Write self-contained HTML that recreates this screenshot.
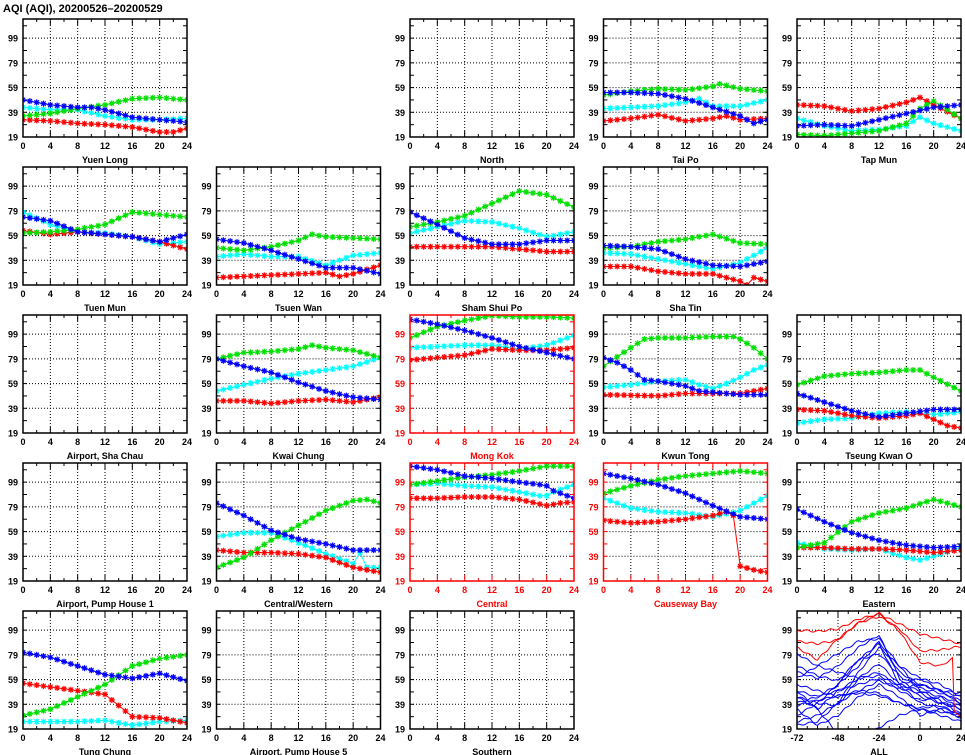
<!DOCTYPE html>
<html><head><meta charset="utf-8"><style>
body{margin:0;background:#fff;}
svg{display:block;font-family:"Liberation Sans",sans-serif;font-weight:bold;}
</style></head><body>
<svg id="s" width="965" height="755" xmlns="http://www.w3.org/2000/svg"></svg>
<script>
const S=document.getElementById('s');let h='';
h+='<text x="3" y="12" font-size="11">AQI (AQI), 20200526\u201320200529</text>';
const W=164,H=118,VMIN=19,VMAX=114.5;
const C={b:'#0000ff',g:'#00e000',c:'#00ffff',r:'#ff0000'};
function interp(kp,t){for(let i=0;i<kp.length-1;i++){if(t>=kp[i][0]&&t<=kp[i+1][0]){const a=kp[i],b=kp[i+1];return a[1]+(b[1]-a[1])*(t-a[0])/(b[0]-a[0]);}}return kp[kp.length-1][1];}
function P(a){const r=[];for(let i=0;i<a.length;i+=2)r.push([a[i],a[i+1]]);return r;}
function panel(c,r,name,red,series,all){
 const L=23+193.5*c,T=19+148*r,B=T+H,R=L+W;
 const col=red?'#ff0000':'#000';
 const xs=v=>all?L+(v+72)/96*W:L+v/24*W;
 const ys=v=>B-(v-VMIN)/(VMAX-VMIN)*H;
 const xt=all?[-72,-48,-24,0,24]:[0,4,8,12,16,20,24];
 xt.forEach(v=>{if(v!==xt[0]&&v!==xt[xt.length-1])h+=`<line x1="${xs(v)}" y1="${T}" x2="${xs(v)}" y2="${B}" stroke="#000" stroke-width="1" stroke-dasharray="1,2"/>`;});
 [39,59,79,99].forEach(v=>{h+=`<line x1="${L}" y1="${ys(v)}" x2="${R}" y2="${ys(v)}" stroke="#000" stroke-width="1" stroke-dasharray="1,2"/>`;});
 for(let v=19;v<=110;v+=10){h+=`<line x1="${L}" y1="${ys(v)}" x2="${L+4}" y2="${ys(v)}" stroke="${col}"/><line x1="${R}" y1="${ys(v)}" x2="${R-4}" y2="${ys(v)}" stroke="${col}"/>`;}
 const st=all?6:2,x0=all?-72:0,x1=24;
 for(let v=x0;v<=x1;v+=st){const len=(all?(v%24==0):(v%4==0))?6:3;h+=`<line x1="${xs(v)}" y1="${T}" x2="${xs(v)}" y2="${T+len}" stroke="${col}"/><line x1="${xs(v)}" y1="${B}" x2="${xs(v)}" y2="${B-len}" stroke="${col}"/>`;}
 [19,39,59,79,99].forEach(v=>{h+=`<text x="${L-5}" y="${ys(v)+3.5}" font-size="9" text-anchor="end" fill="${col}">${v}</text>`;});
 xt.forEach(v=>{h+=`<text x="${xs(v)}" y="${B+12}" font-size="9" text-anchor="middle" fill="${col}">${v}</text>`;});
 h+=`<text x="${L+W/2}" y="${B+26}" font-size="9" text-anchor="middle" fill="${col}">${name}</text>`;
 h+=`<defs><clipPath id="cp${c}_${r}"><rect x="${L}" y="${T}" width="${W}" height="${H}"/></clipPath></defs><g clip-path="url(#cp${c}_${r})">`;
 if(all){
  series.forEach(([k,kp])=>{let pts=[];for(let t=-72;t<=24;t+=1){let v=interp(kp,t)+Math.sin(t*0.9+kp[0][1])*0.8;pts.push(xs(t).toFixed(1)+','+ys(v).toFixed(1));}
   h+=`<polyline points="${pts.join(' ')}" fill="none" stroke="${C[k]}" stroke-width="1"/>`;});
 } else {
  series.forEach(([k,kp])=>{let pts=[],m='';for(let t=0;t<=24;t++){const x=xs(t),y=ys(interp(kp,t));pts.push(x.toFixed(1)+','+y.toFixed(1));
    m+=`M${x-3},${y}h6M${x},${y-3}v6M${x-2.2},${y-2.2}l4.4,4.4M${x-2.2},${y+2.2}l4.4,-4.4`;}
   h+=`<polyline points="${pts.join(' ')}" fill="none" stroke="${C[k]}" stroke-width="1"/><path d="${m}" stroke="${C[k]}" stroke-width="1.2" fill="none"/>`;});
 }
 h+='</g>';
 h+=`<rect x="${L}" y="${T}" width="${W}" height="${H}" fill="none" stroke="${col}" stroke-width="1.5"/>`;
}
const D=(b,g,c,r)=>[['c',P(c)],['r',P(r)],['g',P(g)],['b',P(b)]];
panel(0,0,'Yuen Long',0,D([0,49,4,45,8,43,10,43,12,41,14,38,16,35,20,33,24,31],[0,36,4,38,8,42,12,45,16,50,20,51,24,49],[0,43,4,41,8,41,12,36,16,33,20,33,24,34],[0,33,4,32,8,30,12,29,16,27,20,23,22,23,24,26]));
panel(2,0,'North',0,[]);
panel(3,0,'Tai Po',0,D([0,55,4,55,8,54,12,50,16,43,20,36,22,30,24,33],[0,53,4,56,8,58,12,57,16,60,17,62,20,58,24,56],[0,42,4,43,8,44,12,47,14,50,16,44,20,44,24,49],[0,32,4,34,8,37,12,32,16,34,18,36,20,33,24,34]));
panel(4,0,'Tap Mun',0,D([0,28,4,29,8,28,12,33,16,38,20,43,24,45],[0,21,4,20,8,22,12,24,16,30,18,42,20,48,24,34],[0,34,4,28,8,24,12,25,16,28,18,35,20,30,24,24],[0,45,4,44,8,40,12,42,16,47,18,51,20,45,24,34]));
panel(0,1,'Tuen Mun',0,D([0,74,4,71,8,62,12,60,16,58,20,54,24,60],[0,61,4,62,8,64,12,68,16,78,20,76,24,74],[0,78,4,68,8,62,12,61,16,58,20,52,24,54],[0,63,4,60,8,62,12,60,16,58,20,54,24,48]));
panel(1,1,'Tsuen Wan',0,D([0,56,4,53,8,47,12,40,16,33,20,33,24,28],[0,49,4,47,8,50,12,55,14,60,16,58,20,57,24,56],[0,42,4,44,8,42,12,42,16,35,20,43,24,45],[0,25,4,26,8,27,12,28,16,29,18,26,20,28,24,35]));
panel(2,1,'Sham Shui Po',0,D([0,78,4,68,8,57,12,52,16,52,20,55,24,55],[0,66,4,70,8,75,12,85,16,95,20,92,24,82],[0,61,4,66,8,71,12,70,16,65,20,58,24,62],[0,50,4,50,8,50,12,50,16,48,20,46,24,46]));
panel(3,1,'Sha Tin',0,D([0,51,4,50,8,48,12,40,16,35,20,34,24,38],[0,49,4,50,8,54,12,56,16,60,20,53,24,52],[0,45,4,44,8,40,12,36,16,32,20,37,24,49],[0,34,4,34,8,30,12,28,16,28,20,22,21,19,22,25,24,22]));
panel(0,2,'Airport, Sha Chau',0,[]);
panel(1,2,'Kwai Chung',0,D([0,79,4,73,8,68,12,60,16,53,20,48,24,46],[0,79,4,84,8,85,12,87,14,90,16,88,20,86,24,80],[0,53,4,58,8,63,12,67,16,70,20,73,24,80],[0,45,4,45,8,43,12,45,16,46,20,44,24,48]));
panel(2,2,'Mong Kok',1,D([0,111,4,107,8,102,12,96,16,89,20,84,24,79],[0,96,4,105,8,110,12,114,16,113,20,113,24,112],[0,88,4,89,8,90,12,90,16,87,20,90,24,98],[0,78,4,80,8,82,12,87,16,86,20,86,24,88]));
panel(3,2,'Kwun Tong',0,D([0,80,2,76,4,70,6,62,8,61,12,57,14,53,16,52,20,50,24,50],[0,73,1,77,4,88,6,95,8,96,12,96,16,97,19,97,20,95,22,88,24,79],[0,56,4,58,8,61,12,62,14,58,16,55,18,59,20,64,22,70,24,74],[0,50,8,49,12,51,16,51,20,51,24,55]));
panel(4,2,'Tseung Kwan O',0,D([0,51,4,44,8,37,12,32,16,35,20,38,24,38],[0,58,4,65,8,67,12,68,16,70,18,70,20,64,24,53],[0,27,4,30,8,31,12,35,16,36,20,34,24,36],[0,38,4,37,8,33,12,31,16,33,18,35,20,30,22,25,24,23]));
panel(0,3,'Airport, Pump House 1',0,[]);
panel(1,3,'Central/Western',0,D([0,82,4,72,8,60,12,53,16,49,20,44,24,44],[0,30,4,38,8,52,12,64,16,76,20,84,22,85,24,82],[0,55,4,58,8,58,12,50,16,41,20,33,21,42,22,30,24,30],[0,44,4,42,8,42,12,41,16,38,20,30,24,26]));
panel(2,3,'Central',1,D([0,112,4,109,8,104,12,102,16,99,19,97,20,96,21,92,24,86],[0,97,4,100,8,103,12,105,16,108,20,112,24,112],[0,97,4,98,8,96,12,95,16,91,19,88,20,88,21,91,24,97],[0,86,4,86,8,87,12,87,16,85,20,80,22,82,24,83]));
panel(3,3,'Causeway Bay',1,D([0,106,4,102,8,97,12,90,16,80,20,71,24,69],[0,90,4,96,8,101,12,104,16,106,20,108,24,106],[0,86,4,78,8,75,12,74,16,71,20,76,24,88],[0,68,4,66,8,67,12,69,16,72,18,75,19,72,20,31,22,28,24,26]));
panel(4,3,'Eastern',0,D([0,77,4,67,8,58,12,52,16,48,20,46,24,47],[0,46,4,50,8,67,12,74,16,78,20,85,24,79],[0,50,4,45,8,44,12,45,16,38,18,36,20,39,24,46],[0,46,4,46,8,45,12,45,16,44,20,42,24,44]));
panel(0,4,'Tung Chung',0,D([0,81,4,77,8,70,12,63,16,60,20,64,24,58],[0,30,4,35,8,45,12,55,16,70,20,76,24,79],[0,25,4,25,8,25,12,26,16,22,20,25,24,26],[0,56,4,53,8,50,12,47,16,29,20,28,24,24]));
panel(1,4,'Airport, Pump House 5',0,[]);
panel(2,4,'Southern',0,[]);
const T9=[-72,-60,-48,-36,-24,-12,0,12,24];
const mk=a=>T9.map((t,i)=>[t,a[i]]);
const blues=[[60,70,80,90,92,70,50,45,35],[30,40,55,75,88,55,50,42,30],[45,35,50,60,65,52,48,40,38],[80,70,65,60,62,55,60,55,45],[25,30,40,50,48,40,35,30,25],[50,45,55,70,90,65,55,50,45],[35,22,30,45,55,45,30,35,28],[65,60,70,85,95,60,45,40,35],[40,45,50,55,60,50,42,45,40],[22,25,40,65,85,70,60,50,40],[55,50,45,50,58,52,55,50,48],[38,42,46,48,46,40,36,38,30],[50,35,15,10,20,30,35,33,30],[70,62,58,75,80,62,52,48,42],[45,40,38,60,72,55,40,36,32]];
const reds=[[99,98,100,108,112,104,96,92,88],[90,88,91,105,110,100,82,83,86],[85,75,92,105,113,98,73,72,70]];
let as=blues.map(a=>['b',mk(a)]);
reds.forEach((a,i)=>{let kp=mk(a);if(i==2){kp=[...kp.slice(0,7),[12,70],[19,76],[20,33],[24,30]];}as.push(['r',kp]);});
panel(4,4,'ALL',0,as,true);
S.innerHTML=h;
</script>
</body></html>
